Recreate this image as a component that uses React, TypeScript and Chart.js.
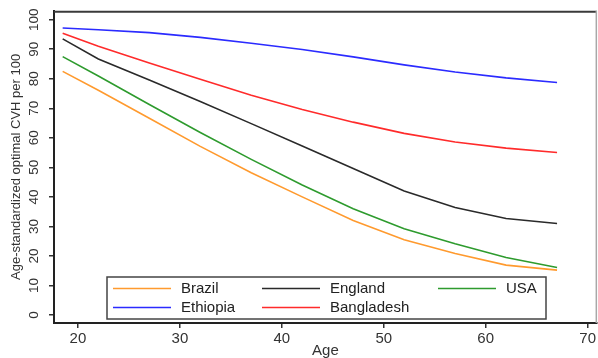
import React, { useEffect, useRef } from "react";
import { Chart, registerables } from "chart.js";

Chart.register(...registerables);

const ages = [18.5, 22, 27, 32, 37, 42, 47, 52, 57, 62, 67];
const brazil = [82.5, 76.1, 66.6, 57.1, 48.2, 40.0, 32.0, 25.5, 20.8, 16.9, 15.2];
const england = [93.5, 86.7, 79.6, 72.3, 64.8, 57.2, 49.6, 42.0, 36.4, 32.7, 31.0];
const usa = [87.5, 80.9, 71.3, 61.8, 52.7, 44.0, 36.0, 29.2, 24.1, 19.5, 16.1];
const ethiopia = [97.2, 96.6, 95.6, 94.0, 92.0, 89.9, 87.4, 84.7, 82.3, 80.3, 78.7];
const bangladesh = [95.4, 91.0, 85.3, 79.8, 74.4, 69.6, 65.3, 61.5, 58.6, 56.5, 55.0];

const xTicks = [20, 30, 40, 50, 60, 70];
const yTicks = [0, 10, 20, 30, 40, 50, 60, 70, 80, 90, 100];

const seriesNames = ["Brazil", "England", "USA", "Ethiopia", "Bangladesh"];
const seriesValues = [brazil, england, usa, ethiopia, bangladesh];
const seriesColors = ["#FF9A2E", "#2A2A2A", "#2E9B2E", "#2B2BFF", "#FF2B2B"];

const FONT = "'Liberation Sans', Arial, Helvetica, sans-serif";

const framePlugin = {
  id: "frame",
  beforeDatasetsDraw(chart: any) {
    const { ctx, chartArea } = chart;
    ctx.save();
    ctx.lineWidth = 2;
    ctx.strokeStyle = "#3a3a3a";
    ctx.beginPath();
    ctx.moveTo(chartArea.left, chartArea.top + 1);
    ctx.lineTo(chartArea.right, chartArea.top + 1);
    ctx.stroke();
    ctx.lineWidth = 1.5;
    ctx.strokeStyle = "#a8a8a8";
    ctx.beginPath();
    ctx.moveTo(chartArea.right - 0.5, chartArea.top);
    ctx.lineTo(chartArea.right - 0.5, chartArea.bottom);
    ctx.stroke();
    ctx.restore();
  },
};

const yLabelPlugin = {
  id: "yLabels",
  afterDraw(chart: any) {
    const { ctx } = chart;
    const scale = chart.scales.y;
    ctx.save();
    ctx.font = `13.5px ${FONT}`;
    ctx.fillStyle = "#333";
    ctx.textAlign = "center";
    ctx.textBaseline = "middle";
    for (const t of scale.ticks) {
      const py = scale.getPixelForValue(t.value);
      ctx.save();
      ctx.translate(34, py);
      ctx.rotate(-Math.PI / 2);
      ctx.fillText(String(t.value), 0, 0);
      ctx.restore();
    }
    ctx.restore();
  },
};

const legendPlugin = {
  id: "customLegend",
  afterDraw(chart: any) {
    const { ctx } = chart;
    const left = 107, top = 277, right = 546, bottom = 319;
    ctx.save();
    ctx.fillStyle = "#fff";
    ctx.fillRect(left, top, right - left, bottom - top);
    ctx.lineWidth = 1.5;
    ctx.strokeStyle = "#444";
    ctx.strokeRect(left, top, right - left, bottom - top);
    const colX = [113, 262, 438];
    const rowY = [288.5, 307.5];
    ctx.font = `15px ${FONT}`;
    ctx.textBaseline = "middle";
    ctx.textAlign = "left";
    seriesNames.forEach((name, i) => {
      const col = i % 3;
      const row = Math.floor(i / 3);
      const x = colX[col];
      const y = rowY[row];
      ctx.strokeStyle = seriesColors[i];
      ctx.lineWidth = 1.5;
      ctx.beginPath();
      ctx.moveTo(x, y);
      ctx.lineTo(x + 58, y);
      ctx.stroke();
      ctx.fillStyle = "#222";
      ctx.fillText(name, x + 68, y + 0.5);
    });
    ctx.restore();
  },
};

export default function App() {
  const ref = useRef<HTMLCanvasElement | null>(null);
  useEffect(() => {
    if (!ref.current) return;
    const chart = new Chart(ref.current, {
      type: "line",
      data: {
        datasets: seriesNames.map((name, i) => ({
          label: name,
          data: ages.map((a, j) => ({ x: a, y: seriesValues[i][j] })),
          borderColor: seriesColors[i],
          backgroundColor: seriesColors[i],
          borderWidth: 1.6,
          pointRadius: 0,
          tension: 0,
          fill: false,
        })),
      },
      options: {
        animation: false,
        responsive: false,
        devicePixelRatio: 1,
        layout: { padding: { top: 10, right: 1, left: 0, bottom: 0 } },
        plugins: {
          legend: { display: false },
          tooltip: { enabled: false },
        },
        scales: {
          x: {
            type: "linear",
            min: 17.65,
            max: 70.9,
            afterBuildTicks: (s: any) => {
              s.ticks = xTicks.map((v) => ({ value: v }));
            },
            afterFit: (s: any) => {
              s.height = 35;
            },
            grid: {
              drawOnChartArea: false,
              drawTicks: true,
              tickLength: 5,
              color: "#333",
              lineWidth: 1.5,
            },
            border: { display: true, color: "#222", width: 2 },
            ticks: {
              font: { family: FONT, size: 15, lineHeight: 1.2 },
              color: "#333",
              padding: 2,
              maxRotation: 0,
              minRotation: 0,
            },
            title: {
              display: true,
              text: "Age",
              font: { family: FONT, size: 15, lineHeight: 1 },
              color: "#333",
              padding: { top: 0, bottom: 0 },
            },
          },
          y: {
            type: "linear",
            min: -2.7,
            max: 103.0,
            afterBuildTicks: (s: any) => {
              s.ticks = yTicks.map((v) => ({ value: v }));
            },
            afterFit: (s: any) => {
              s.width = 54;
            },
            grid: {
              drawOnChartArea: false,
              drawTicks: true,
              tickLength: 5,
              color: "#333",
              lineWidth: 1.5,
            },
            border: { display: true, color: "#222", width: 2 },
            ticks: {
              font: { family: FONT, size: 13 },
              color: "rgba(0,0,0,0)",
            },
            title: {
              display: true,
              text: "Age-standardized optimal CVH per 100",
              font: { family: FONT, size: 13, lineHeight: 1.2 },
              color: "#333",
              padding: { top: 9, bottom: 0 },
            },
          },
        },
      },
      plugins: [framePlugin, yLabelPlugin, legendPlugin],
    });
    return () => chart.destroy();
  }, []);
  return (
    <div style={{ position: "fixed", left: 0, top: 0, width: 598, height: 358, background: "#fff" }}>
      <canvas ref={ref} width={598} height={358} />
    </div>
  );
}
